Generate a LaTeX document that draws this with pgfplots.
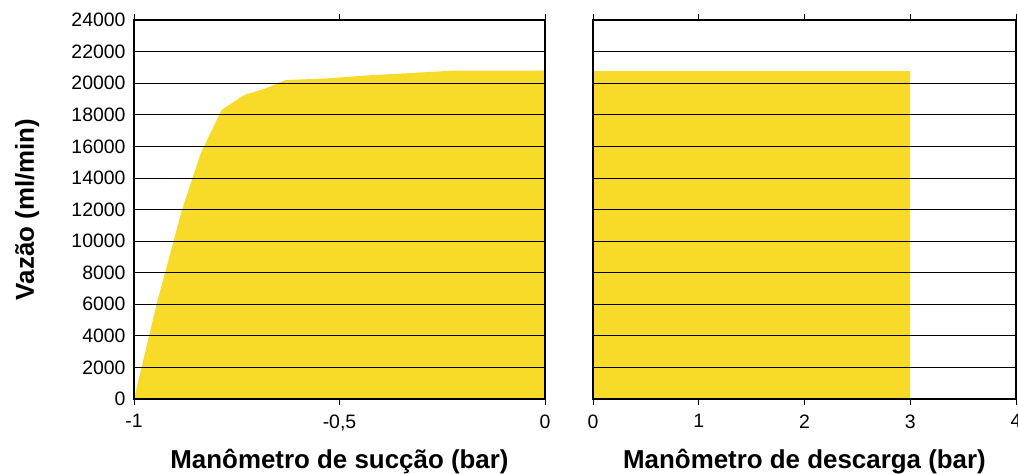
\documentclass[border=0pt]{standalone}
\usepackage{fontspec}
\setmainfont{Liberation Sans}
\usepackage{pgfplots}
\pgfplotsset{compat=1.18}
\definecolor{amarelo}{RGB}{247,219,40}
\begin{document}
\begin{tikzpicture}
\pgfplotsset{
  painel/.style={
    anchor=south west,
    scale only axis,
    height=379bp,
    ymin=0, ymax=24000,
    ytick={0,2000,...,24000},
    axis on top,
    axis line style={line width=1.3bp},
    ymajorgrids=true,
    grid style={black, line width=0.8bp},
    tick align=outside,
    major tick length=6bp,
    ytick style={draw=none},
    xtick style={black, line width=1bp},
    tick label style={font=\fontsize{19.5}{22}\selectfont},
    xticklabel style={yshift=-6bp},
    yticklabel style={xshift=1bp},
    /pgf/number format/assume math mode=true,
    /pgf/number format/1000 sep={},
    scaled ticks=false,
    xlabel style={font=\fontsize{26}{29}\selectfont\bfseries,
      at={(axis description cs:0.5,-0.165)}, anchor=center},
  },
}
% painel esquerdo: succao
\begin{axis}[painel,
  at={(134bp,75bp)}, width=411bp,
  xmin=-1, xmax=0,
  xtick={-1,-0.5,0},
  xticklabels={-1,{-0,5},0},
  xlabel={Manômetro de sucção (bar)},
  ylabel={Vazão (ml/min)},
  ylabel style={font=\fontsize{26}{29}\selectfont\bfseries,
    at={(axis description cs:-0.26,0.5)}, anchor=center},
]
\addplot[fill=amarelo, draw=none] coordinates {
  (-1,0) (-0.945,6000) (-0.883,12000) (-0.837,15600) (-0.787,18300)
  (-0.732,19250) (-0.681,19650) (-0.631,20200) (-0.531,20300)
  (-0.426,20500) (-0.32,20650) (-0.219,20800) (0,20800)
} \closedcycle;
\end{axis}
% painel direito: descarga
\begin{axis}[painel,
  at={(593bp,75bp)}, width=423bp,
  xmin=0, xmax=4,
  xtick={0,1,2,3,4},
  yticklabels={},
  xlabel={Manômetro de descarga (bar)},
]
\addplot[fill=amarelo, draw=none] coordinates {
  (0,20800) (3,20800)
} \closedcycle;
\end{axis}
\pgfresetboundingbox
\path[use as bounding box] (0,0) rectangle (1018bp,474bp);
\end{tikzpicture}
\end{document}
